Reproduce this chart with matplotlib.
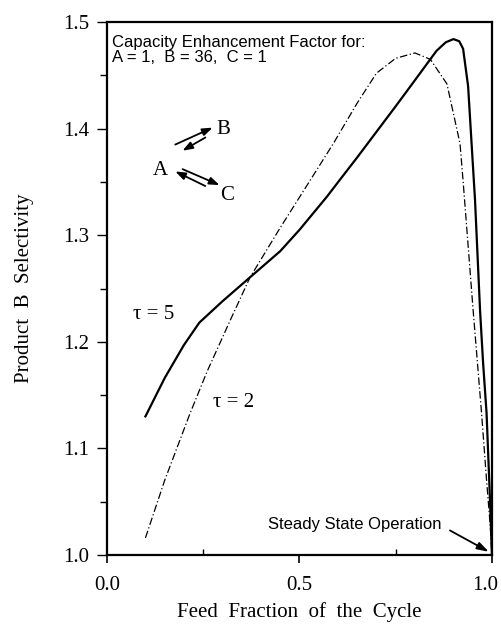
import matplotlib.pyplot as plt
from matplotlib.ticker import MultipleLocator
from matplotlib.transforms import ScaledTranslation

# tau = 5 (solid)
x_tau5 = [0.10, 0.15, 0.20, 0.24, 0.30, 0.37, 0.45, 0.50, 0.571, 0.605, 0.65, 0.70, 0.75, 0.795,
          0.856, 0.88, 0.90, 0.915, 0.925, 0.938, 0.956, 0.969, 0.977, 0.986, 0.994, 1.0]
y_tau5 = [1.130, 1.166, 1.197, 1.218, 1.238, 1.260, 1.285, 1.305, 1.336, 1.352, 1.373, 1.397, 1.421, 1.443,
          1.473, 1.481, 1.484, 1.482, 1.475, 1.440, 1.333, 1.230, 1.180, 1.133, 1.060, 1.0]

# tau = 2 (dash-dot)
x_tau2 = [0.10, 0.15, 0.216, 0.26, 0.32, 0.371, 0.45, 0.527, 0.588, 0.65, 0.70, 0.75, 0.80,
          0.84, 0.883, 0.917, 0.925, 0.951, 0.973, 0.986, 0.995, 1.0]
y_tau2 = [1.016, 1.070, 1.133, 1.172, 1.220, 1.260, 1.307, 1.351, 1.386, 1.424, 1.452, 1.466, 1.471,
          1.465, 1.442, 1.386, 1.351, 1.230, 1.133, 1.070, 1.030, 1.0]

x_ticks = [0.0, 0.5, 1.0]
y_ticks = [1.0, 1.1, 1.2, 1.3, 1.4, 1.5]

serif = 'Liberation Serif'
sans = 'Liberation Sans'

fig = plt.figure(figsize=(5.02, 6.39), dpi=100)
ax = fig.add_axes([0.213, 0.1315, 0.767, 0.834])

ax.plot(x_tau5, y_tau5, color='black', lw=1.6)
ax.plot(x_tau2, y_tau2, color='black', lw=0.9, linestyle=(0, (6, 2, 1, 2)))

ax.set_xlim(0.0, 1.0)
ax.set_ylim(1.0, 1.5)
ax.set_xticks(x_ticks)
ax.set_xticklabels(['%.1f' % v for v in x_ticks], family=serif, fontsize=15)
ax.set_yticks(y_ticks)
ax.set_yticklabels(['%.1f' % v for v in y_ticks], family=serif, fontsize=15)
ax.xaxis.set_minor_locator(MultipleLocator(0.25))
ax.yaxis.set_minor_locator(MultipleLocator(0.05))
ax.tick_params(axis='x', which='major', direction='out', length=6, width=1.2, pad=9)
ax.tick_params(axis='x', which='minor', direction='in', length=4, width=1.0)
ax.tick_params(axis='y', which='major', direction='out', length=7, width=1.0, pad=6)
ax.tick_params(axis='y', which='minor', direction='out', length=5, width=1.0)
for s in ax.spines.values():
    s.set_linewidth(1.6)

# keep the last x tick label inside the figure, as in the original
last = ax.get_xticklabels()[-1]
last.set_transform(last.get_transform() + ScaledTranslation(-7 / 100, 0, fig.dpi_scale_trans))

ax.set_xlabel('Feed  Fraction  of  the  Cycle', family=serif, fontsize=15, labelpad=5)
ax.set_ylabel('Product  B  Selectivity', family=serif, fontsize=15, labelpad=21)

ax.text(0.014, 0.976, 'Capacity Enhancement Factor for:\nA = 1,  B = 36,  C = 1',
        transform=ax.transAxes, family=sans, fontsize=12, va='top', ha='left', linespacing=1.0)

# reaction scheme
ax.text(0.138, 1.361, 'A', family=serif, fontsize=15, ha='center', va='center')
ax.text(0.301, 1.399, 'B', family=serif, fontsize=15, ha='center', va='center')
ax.text(0.312, 1.337, 'C', family=serif, fontsize=15, ha='center', va='center')
arrow_kw = dict(arrowstyle='-|>,head_length=0.6,head_width=0.22', color='black', lw=1.3)
ax.annotate('', xy=(0.281, 1.402), xytext=(0.171, 1.384), arrowprops=arrow_kw)
ax.annotate('', xy=(0.190, 1.378), xytext=(0.262, 1.393), arrowprops=arrow_kw)
ax.annotate('', xy=(0.299, 1.346), xytext=(0.190, 1.363), arrowprops=arrow_kw)
ax.annotate('', xy=(0.171, 1.361), xytext=(0.262, 1.345), arrowprops=arrow_kw)

ax.text(0.068, 1.226, '\u03c4 = 5', family=serif, fontsize=15, ha='left', va='center')
ax.text(0.275, 1.143, '\u03c4 = 2', family=serif, fontsize=15, ha='left', va='center')

ax.annotate('Steady State Operation', xy=(0.993, 1.003), xytext=(0.418, 1.029),
            family=sans, fontsize=12, ha='left', va='center')
ax.annotate('', xy=(0.992, 1.003), xytext=(0.891, 1.023),
            arrowprops=dict(arrowstyle='-|>,head_length=0.7,head_width=0.22', color='black', lw=1.3,
                            shrinkA=0, shrinkB=0))

fig.savefig('out.png', dpi=100)
